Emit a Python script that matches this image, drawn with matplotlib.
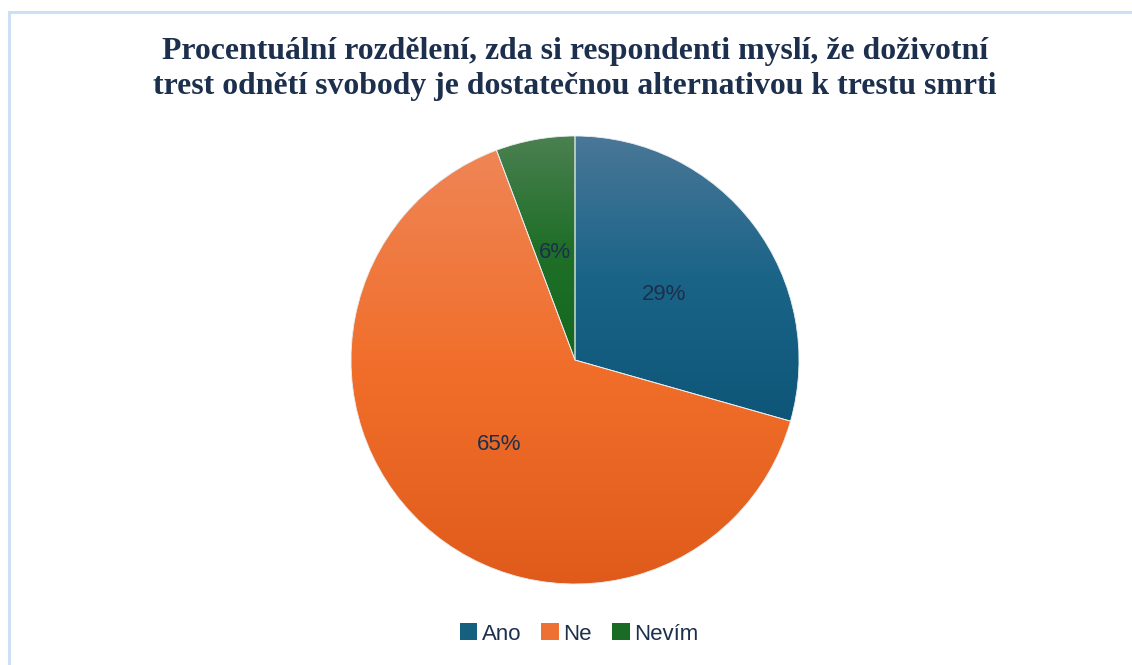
import matplotlib
matplotlib.use("Agg")
import matplotlib.pyplot as plt
import numpy as np
from matplotlib.colors import LinearSegmentedColormap, to_rgb
from matplotlib.patches import Rectangle

categories = ["Ano", "Ne", "Nevím"]
values = [29.4, 64.9, 5.7]
title = "Procentuální rozdělení, zda si respondenti myslí, že doživotní\ntrest odnětí svobody je dostatečnou alternativou k trestu smrti"

# gradient stops per slice (top, middle, bottom)
grad_colors = [
    ["#4a7797", "#1a6488", "#0e5678"],
    ["#ef8556", "#f16e2a", "#e05b1b"],
    ["#4b8051", "#1f6f28", "#15681f"],
]
legend_colors = ["#15607f", "#ef7033", "#1a6b24"]
text_color = "#1c2f4d"

fig = plt.figure(figsize=(11.32, 6.65), dpi=100)
fig.patch.set_facecolor("white")

# chart border
fig.add_artist(Rectangle((8.5 / 1132, -0.01), 1.2, (665 - 12) / 665 + 0.01,
                         transform=fig.transFigure, fill=False,
                         edgecolor="#cddff2", lw=2.2))

fig.text(575 / 1132, 1 - 69 / 665, title, ha="center", va="center",
         fontsize=22.9, fontweight="bold", family="Liberation Serif",
         color=text_color, linespacing=1.25)

r_px = 224
cx, cy = 575, 360
ax = fig.add_axes([(cx - r_px) / 1132, 1 - (cy + r_px) / 665,
                   2 * r_px / 1132, 2 * r_px / 665])
wedges, texts, autotexts = ax.pie(
    values, startangle=90, counterclock=False, radius=1,
    autopct="%.0f%%", pctdistance=0.5,
    colors=[g[1] for g in grad_colors],
    wedgeprops=dict(edgecolor="#e8eef0", linewidth=0.6),
    textprops=dict(fontsize=16, family="Liberation Sans", color=text_color))
ax.set_xlim(-1, 1)
ax.set_ylim(-1, 1)
ax.set_aspect("equal")
ax.axis("off")

for w, g in zip(wedges, grad_colors):
    verts = w.get_path().transformed(w.get_patch_transform()).vertices
    x0, x1 = verts[:, 0].min(), verts[:, 0].max()
    y0, y1 = verts[:, 1].min(), verts[:, 1].max()
    cmap = LinearSegmentedColormap.from_list("g", [to_rgb(c) for c in g])
    grad = np.linspace(0, 1, 256).reshape(-1, 1)
    im = ax.imshow(grad, cmap=cmap, extent=[x0, x1, y0, y1], origin="upper",
                   aspect="auto", zorder=w.get_zorder() + 0.1, interpolation="bilinear")
    im.set_clip_path(w)
    w.set_facecolor("none")
    w.set_zorder(w.get_zorder() + 0.2)
for t in autotexts:
    t.set_zorder(10)
    t.set_verticalalignment("center_baseline")
ax.set_xlim(-1, 1)
ax.set_ylim(-1, 1)

handles = [Rectangle((0, 0), 1, 1, facecolor=c, edgecolor="none") for c in legend_colors]
fig.legend(handles, categories, loc="center", bbox_to_anchor=(579 / 1132, 1 - 634 / 665),
           ncol=3, frameon=False, handlelength=0.8, handleheight=0.8,
           handletextpad=0.2, columnspacing=0.9,
           prop=dict(family="Liberation Sans", size=16), labelcolor=text_color)

fig.savefig("out.png", dpi=100, facecolor="white")
